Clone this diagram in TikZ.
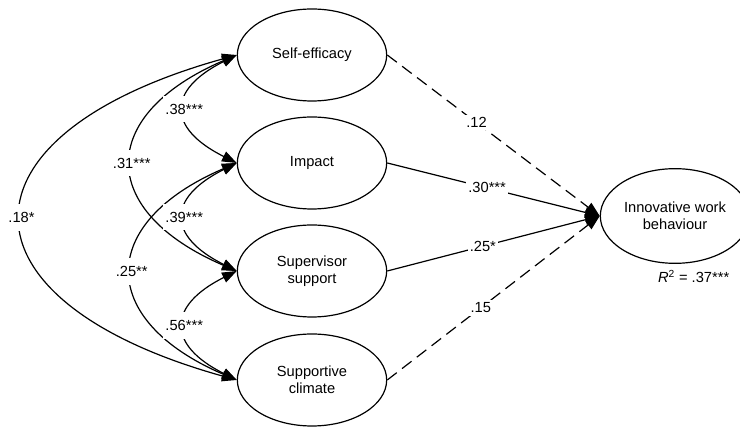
\documentclass[tikz,border=0pt]{standalone}
\usepackage{fontspec}
\setmainfont{Liberation Sans}
\usetikzlibrary{arrows.meta,shapes.geometric,positioning}

\begin{document}
\begin{tikzpicture}[
  x=0.75pt, y=-0.75pt,
  font=\fontsize{11}{13}\selectfont,
  latent/.style={draw, ellipse, line width=0.9pt, align=center,
                 minimum width=112pt, minimum height=69pt, inner sep=0pt},
  reg/.style={-{Triangle[length=11pt,width=8pt]}, line width=0.9pt},
  cov/.style={{Triangle[length=11pt,width=8pt]}-{Triangle[length=11pt,width=8pt]}, line width=0.9pt},
  ns/.style={dash pattern=on 9pt off 5pt},
  est/.style={fill=white, inner xsep=1.5pt, inner ysep=2pt},
  cest/.style={est, inner ysep=6pt}
]
\useasboundingbox (0,0) rectangle (740,427);
\node[latent] (se) at (312,55) {Self-efficacy};
\node[latent] (im) at (312,163) {Impact};
\node[latent] (ss) at (312,271) {Supervisor\\support};
\node[latent] (sc) at (312,380) {Supportive\\climate};
\node[latent, minimum height=71pt] (iwb) at (675,216) {Innovative work\\behaviour};
\node[below=1pt of iwb.south, xshift=14pt] (r2) {\textit{R}\textsuperscript{2} = .37***};
\draw[reg, ns] (se.east) -- (iwb.west) node[est, pos=0.42] {.12};
\draw[reg] (im.east) -- (iwb.west) node[est, pos=0.47] {.30***};
\draw[reg] (ss.east) -- (iwb.west) node[est, pos=0.45] {.25*};
\draw[reg, ns] (sc.east) -- (iwb.west) node[est, pos=0.44] {.15};
\draw[cov] (se.west) .. controls +(-287,80) and +(-287,-80) .. (sc.west) node[cest, pos=0.5] {.18*};
\draw[cov] (se.west) .. controls +(-140,60) and +(-140,-60) .. (ss.west) node[cest, pos=0.5] {.31***};
\draw[cov] (im.west) .. controls +(-140,60) and +(-140,-60) .. (sc.west) node[cest, pos=0.5] {.25**};
\draw[cov] (se.west) .. controls +(-70,35) and +(-70,-35) .. (im.west) node[cest, pos=0.5] {.38***};
\draw[cov] (im.west) .. controls +(-70,35) and +(-70,-35) .. (ss.west) node[cest, pos=0.5] {.39***};
\draw[cov] (ss.west) .. controls +(-70,35) and +(-70,-35) .. (sc.west) node[cest, pos=0.5] {.56***};
\end{tikzpicture}
\end{document}
